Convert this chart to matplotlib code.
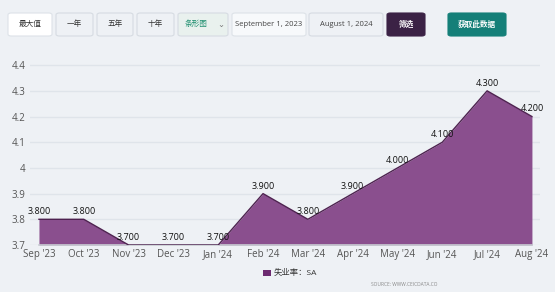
import numpy as np
import matplotlib.pyplot as plt
from matplotlib.patches import FancyBboxPatch, Rectangle

plt.rcParams['font.family'] = ['Open Sans', 'Noto Sans CJK SC', 'DejaVu Sans']

months = ["Sep '23", "Oct '23", "Nov '23", "Dec '23", "Jan '24", "Feb '24",
          "Mar '24", "Apr '24", "May '24", "Jun '24", "Jul '24", "Aug '24"]
rate = [3.8, 3.8, 3.7, 3.7, 3.7, 3.9, 3.8, 3.9, 4.0, 4.1, 4.3, 4.2]
yticks = [3.7, 3.8, 3.9, 4.0, 4.1, 4.2, 4.3, 4.4]
ytick_labels = ['3.7', '3.8', '3.9', '4', '4.1', '4.2', '4.3', '4.4']
series_name = '失业率：SA'

bg = '#eef1f5'
fig = plt.figure(figsize=(5.55, 2.92), dpi=100, facecolor=bg)
W, H = 555, 292

# top toolbar
buttons = [
    (8, 52, '最大值', '#ffffff', '#333333', '#dde2e8'),
    (56, 93, '一年', '#eef1f5', '#333333', '#d6dbe2'),
    (97, 133, '五年', '#eef1f5', '#333333', '#d6dbe2'),
    (137, 174, '十年', '#eef1f5', '#333333', '#d6dbe2'),
    (178, 228, '条形图', '#e9f1ee', '#1f8f6f', '#d6dbe2'),
    (232, 306, 'September 1, 2023', '#f7f9fb', '#444444', '#dde2e8'),
    (309, 383, 'August 1, 2024', '#eef1f5', '#444444', '#d6dbe2'),
    (387, 425, '筛选', '#3b2245', '#ffffff', '#3b2245'),
    (448, 506, '获取此数据', '#147f78', '#ffffff', '#147f78'),
]
for x0, x1, label, fc, tc, ec in buttons:
    y0, y1 = 13, 36
    box = FancyBboxPatch((x0 / W, 1 - y1 / H), (x1 - x0) / W, (y1 - y0) / H,
                         boxstyle='round,pad=0,rounding_size=0.006',
                         transform=fig.transFigure, facecolor=fc,
                         edgecolor=ec, linewidth=0.8)
    fig.patches.append(box)
    cx = (x0 + x1) / 2
    if label == '条形图':
        cx = x0 + 18
        fig.text(221 / W, 1 - 24.5 / H, '⌄', fontsize=6, color='#777777',
                 ha='center', va='center', family=['DejaVu Sans'])
    fig.text(cx / W, 1 - 24.5 / H, label, fontsize=5.5, color=tc,
             ha='center', va='center',
             fontweight='bold' if fc in ('#3b2245', '#147f78') else 'normal')

# chart
ax = fig.add_axes([30 / W, 1 - 245 / H, 510 / W, 185 / H])
ax.set_facecolor(bg)
x = np.arange(len(months))
ax.fill_between(x, 3.7, rate, color='#8a4f8e', linewidth=0, zorder=2)
ax.plot(x, rate, color='#4e2250', linewidth=1.0, zorder=3)

for xi, v in zip(x, rate):
    ax.text(xi, v + 0.012, f'{v:.3f}', ha='center', va='bottom',
            fontsize=6.5, color='#111111', zorder=4)

ax.set_xlim(-0.2, 11.18)
ax.set_ylim(3.7, 4.42)
ax.set_yticks(yticks)
ax.set_yticklabels(ytick_labels)
ax.set_xticks(x)
ax.set_xticklabels(months)
ax.grid(axis='y', color='#dfe4ea', linewidth=1.0, zorder=0)
ax.tick_params(axis='both', length=0, labelsize=7, labelcolor='#555555')
ax.tick_params(axis='x', pad=3)
ax.tick_params(axis='y', pad=3)
for s in ['top', 'right', 'left']:
    ax.spines[s].set_visible(False)
ax.spines['bottom'].set_color('#c8ccd2')
ax.spines['bottom'].set_linewidth(1.2)
ax.spines['bottom'].set_bounds(0, 11)

# legend
fig.patches.append(Rectangle((263 / W, 1 - 276 / H), 8 / W, 6 / H,
                             transform=fig.transFigure, facecolor='#6c2a70',
                             edgecolor='none'))
fig.text(274 / W, 1 - 273 / H, series_name, fontsize=6, color='#333333',
         ha='left', va='center')
fig.text(371 / W, 1 - 284 / H, 'SOURCE: WWW.CEICDATA.CO', fontsize=3.5,
         color='#888888', ha='left', va='center')

fig.savefig('out.png', dpi=100, facecolor=bg)
